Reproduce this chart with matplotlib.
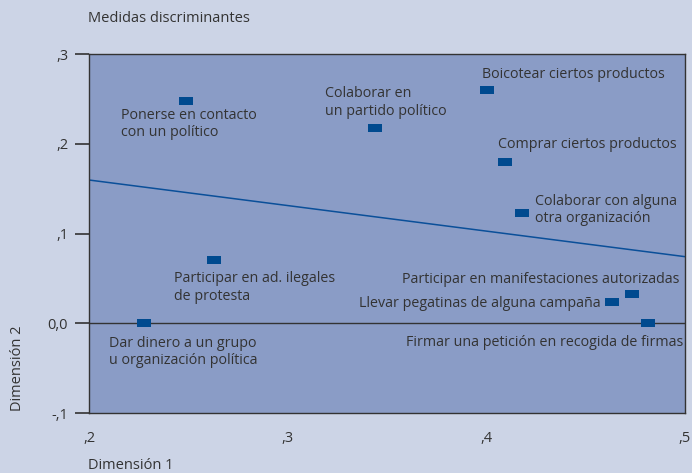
import matplotlib.pyplot as plt

plt.rcParams['font.family'] = ['Open Sans', 'DejaVu Sans']

# discriminant measures (dimension 1, dimension 2)
labels = [
    'Ponerse en contacto\ncon un político',
    'Colaborar en\nun partido político',
    'Boicotear ciertos productos',
    'Comprar ciertos productos',
    'Colaborar con alguna\notra organización',
    'Participar en ad. ilegales\nde protesta',
    'Dar dinero a un grupo\nu organización política',
    'Participar en manifestaciones autorizadas',
    'Llevar pegatinas de alguna campaña',
    'Firmar una petición en recogida de firmas',
]
dim1 = [0.249, 0.344, 0.4005, 0.4095, 0.418, 0.263, 0.2276, 0.4734, 0.4633, 0.4814]
dim2 = [0.248, 0.218, 0.2595, 0.180, 0.1225, 0.070, 0.0, 0.0323, 0.0233, 0.0]

# fitted line end points
line_x = [0.2, 0.5]
line_y = [0.1596, 0.0742]

xticks = [0.2, 0.3, 0.4, 0.5]
xticklabels = [',2', ',3', ',4', ',5']
yticks = [-0.1, 0.0, 0.1, 0.2, 0.3]
yticklabels = ['-,1', '0,0', ',1', ',2', ',3']

# label offsets in pixels (dx, dy down positive) and alignment
offsets = [(-65, 23), (-50, -25), (-5, -16), (-7, -17), (13, -3),
           (-40, 27), (-35, 29), (47, -15), (-11, 1), (35, 19)]
aligns = ['left'] * 7 + ['right'] * 3

bg = '#ccd4e6'
face = '#8a9cc6'
mark = '#004a8f'
txt = '#333333'

fig = plt.figure(figsize=(6.92, 4.73), dpi=100, facecolor=bg)
ax = fig.add_axes([89 / 692, 1 - 413 / 473, 596 / 692, 359 / 473])
ax.set_facecolor(face)

ax.axhline(0, color='#333333', lw=1.0, zorder=1)
ax.plot(line_x, line_y, color='#0a4f99', lw=1.1, zorder=2)

rect = [(-1, -0.57), (1, -0.57), (1, 0.57), (-1, 0.57), (-1, -0.57)]
ax.plot(dim1, dim2, ls='none', marker=rect, ms=10.5, color=mark,
        markeredgewidth=0, zorder=3)

for lab, x, y, (dx, dy), ha in zip(labels, dim1, dim2, offsets, aligns):
    ax.annotate(lab, (x, y), xytext=(dx * 0.72, -dy * 0.72),
                textcoords='offset points', ha=ha, va='center',
                fontsize=10.3, color=txt, linespacing=1.2)

ax.set_xlim(0.2, 0.5)
ax.set_ylim(-0.1, 0.3)
ax.set_xticks(xticks)
ax.set_xticklabels(xticklabels)
ax.set_yticks(yticks)
ax.set_yticklabels(yticklabels)
ax.tick_params(axis='x', length=0, pad=13, labelsize=10.5, colors=txt)
ax.tick_params(axis='y', length=10, width=1.2, pad=5, labelsize=10.5,
               colors='#333333', labelcolor=txt)
for s in ax.spines.values():
    s.set_color('#333333')
    s.set_linewidth(1.0)

fig.text(88 / 692, 1 - 18 / 473, 'Medidas discriminantes', fontsize=10.5,
         color=txt, va='center', ha='left')
fig.text(88 / 692, 1 - 465 / 473, 'Dimensión 1', fontsize=10.5,
         color=txt, va='center', ha='left')
fig.text(18 / 692, 1 - 368 / 473, 'Dimensión 2', fontsize=10.5,
         color=txt, va='center', ha='center', rotation=90)

fig.savefig('out.png', dpi=100, facecolor=bg)
